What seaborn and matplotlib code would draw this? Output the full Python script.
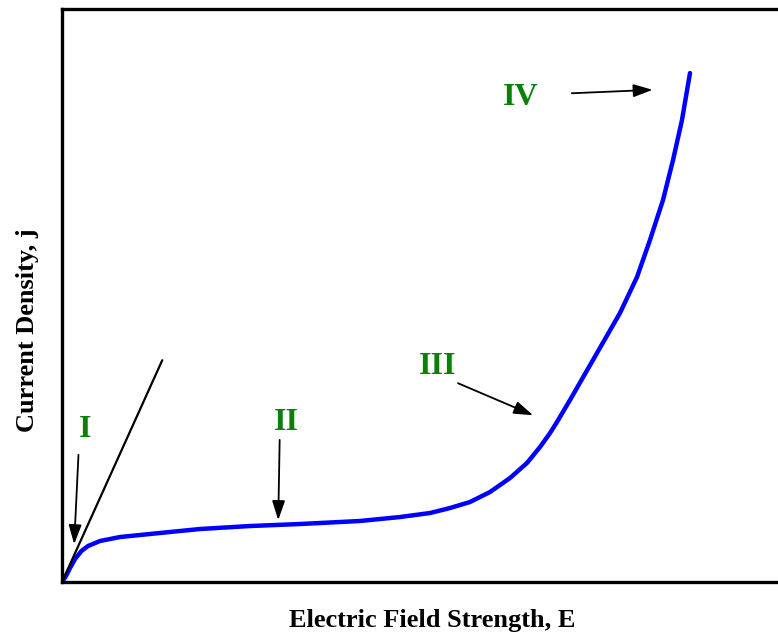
import numpy as np
import pandas as pd
import matplotlib
matplotlib.use("Agg")
import matplotlib.pyplot as plt
import seaborn as sns

# --- data (arbitrary units, 0-100 on both axes) ---
field_e = [0, 0.56, 1.12, 1.82, 2.7, 3.63, 5.31, 8.10, 12.29, 19.27, 26.26, 33.24,
           41.62, 47.21, 51.40, 54.19, 56.98, 59.78, 62.57, 64.94, 66.76, 68.16,
           69.13, 70.95, 74.16, 77.93, 80.31, 82.12, 83.94, 85.34, 86.59, 87.71]
current_j = [0, 1.05, 2.44, 4.01, 5.4, 6.28, 7.16, 7.85, 8.38, 9.25, 9.77, 10.12,
             10.65, 11.34, 12.04, 12.91, 13.96, 15.71, 18.15, 20.77, 23.56, 26.00,
             27.92, 31.76, 38.74, 46.95, 53.23, 59.69, 66.67, 73.65, 80.63, 88.83]

# ohmic tangent line
tangent_e = [0, 14.0]
tangent_j = [0, 38.7]

# region labels: text, label position, arrow tail, arrow head
regions = ["I", "II", "III", "IV"]
label_xy = [(3.2, 26.6), (31.4, 27.8), (52.4, 37.6), (64.1, 84.6)]
arrow_tail = [(2.3, 22.2), (30.4, 24.8), (55.3, 34.7), (71.2, 85.3)]
arrow_head = [(1.7, 6.6), (30.2, 10.8), (65.8, 29.1), (82.5, 85.9)]

df = pd.DataFrame({"E": field_e, "j": current_j})

sns.set_style("white")
plt.rcParams["font.family"] = ["Liberation Serif", "DejaVu Serif"]
plt.rcParams["text.color"] = "black"
plt.rcParams["axes.labelcolor"] = "black"

fig = plt.figure(figsize=(7.78, 6.36), dpi=100)
ax = fig.add_axes([0.0797, 0.0849, 0.9203, 0.9009])

sns.lineplot(data=df, x="E", y="j", ax=ax, color="#0000ff", linewidth=3.2,
             sort=False, solid_capstyle="round", solid_joinstyle="round")
sns.lineplot(x=tangent_e, y=tangent_j, ax=ax, color="black", linewidth=1.6)

for name, lxy, tail, head in zip(regions, label_xy, arrow_tail, arrow_head):
    ax.text(lxy[0], lxy[1], name, color="#0a800a", fontsize=23, fontweight="bold",
            ha="center", va="center")
    ax.annotate("", xy=head, xytext=tail,
                arrowprops=dict(arrowstyle="-|>,head_length=0.9,head_width=0.3",
                                color="black", lw=1.3,
                                mutation_scale=13, shrinkA=0, shrinkB=0))

ax.set_xlim(0, 100)
ax.set_ylim(0, 100)
ax.set_xticks([])
ax.set_yticks([])
for side in ["left", "bottom", "top"]:
    ax.spines[side].set_color("black")
    ax.spines[side].set_linewidth(2.4)
ax.spines["right"].set_visible(False)

ax.set_xlabel("Electric Field Strength, E", fontsize=19, fontweight="bold")
ax.set_ylabel("Current Density, j", fontsize=19, fontweight="bold")
ax.xaxis.set_label_coords(0.517, -0.068, transform=ax.transAxes)
ax.yaxis.set_label_coords(-0.048, 0.44, transform=ax.transAxes)
ax.xaxis.label.set_va("center")
ax.yaxis.label.set_va("center")

fig.savefig("out.png", dpi=100)
